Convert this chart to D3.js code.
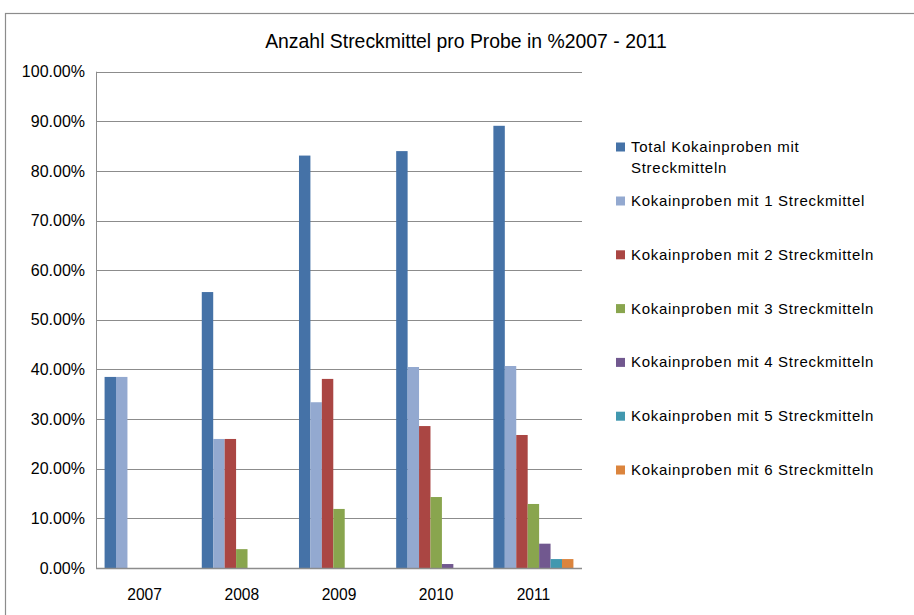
<!DOCTYPE html>
<html>
<head>
<meta charset="utf-8">
<script src="https://cdn.jsdelivr.net/npm/d3@7/dist/d3.min.js"></script>
<style>
  html, body { margin: 0; padding: 0; background: #fff; }
  svg { display: block; font-family: "Liberation Sans", Arial, sans-serif; }
</style>
</head>
<body>
<svg id="chart" width="914" height="615"></svg>
<script>
const years = ["2007", "2008", "2009", "2010", "2011"];
const seriesNames = [
  "Total Kokainproben mit Streckmitteln",
  "Kokainproben mit 1 Streckmittel",
  "Kokainproben mit 2 Streckmitteln",
  "Kokainproben mit 3 Streckmitteln",
  "Kokainproben mit 4 Streckmitteln",
  "Kokainproben mit 5 Streckmitteln",
  "Kokainproben mit 6 Streckmitteln"
];
const total = [38.5, 55.6, 83.1, 84.0, 89.1];
const mit1  = [38.5, 26.0, 33.4, 40.5, 40.7];
const mit2  = [0, 26.0, 38.1, 28.6, 26.8];
const mit3  = [0, 3.8, 11.9, 14.3, 12.9];
const mit4  = [0, 0, 0, 0.8, 4.9];
const mit5  = [0, 0, 0, 0, 1.8];
const mit6  = [0, 0, 0, 0, 1.8];
const yTicks = [0, 10, 20, 30, 40, 50, 60, 70, 80, 90, 100];
const colors = ["#4572A7", "#93A9D0", "#AA4643", "#89A54E", "#71588F", "#4198AF", "#DB843D"];
const title = "Anzahl Streckmittel pro Probe in %2007 - 2011";

const values = [total, mit1, mit2, mit3, mit4, mit5, mit6];

const svg = d3.select("#chart");
const W = 914, H = 615;
const plot = { left: 96, right: 582, top: 71.7, bottom: 568 };
const FONT = '"Liberation Sans", Arial, sans-serif';

// outer chart border
svg.append("rect")
  .attr("x", 5.5).attr("y", 13.5)
  .attr("width", W + 10).attr("height", H + 10)
  .attr("fill", "#fff").attr("stroke", "#8c8c8c").attr("stroke-width", 1.2);

// title
svg.append("text")
  .attr("x", 466).attr("y", 48)
  .attr("text-anchor", "middle")
  .attr("font-size", "19.4px")
  .attr("fill", "#000")
  .text(title);

const y = d3.scaleLinear().domain([0, 100]).range([plot.bottom, plot.top]);
const x0 = d3.scaleBand().domain(years).range([plot.left, plot.right]).paddingInner(0).paddingOuter(0);
const x1 = d3.scaleBand().domain(d3.range(seriesNames.length))
  .range([0, x0.bandwidth()]).paddingInner(0).paddingOuter(0.75);

// gridlines
svg.append("g").selectAll("line").data(yTicks.filter(t => t > 0)).join("line")
  .attr("x1", plot.left).attr("x2", plot.right)
  .attr("y1", d => Math.round(y(d)) + 0.5).attr("y2", d => Math.round(y(d)) + 0.5)
  .attr("stroke", "#8c8c8c").attr("stroke-width", 1);

// y axis labels
const yAxis = d3.axisLeft(y).tickValues(yTicks).tickSize(0).tickPadding(11)
  .tickFormat(d => d.toFixed(2) + "%");
const gy = svg.append("g").attr("transform", `translate(${plot.left},0)`).call(yAxis);
gy.select(".domain").remove();
gy.attr("font-family", FONT).attr("font-size", 16);
gy.selectAll("text").attr("font-size", "16px").attr("fill", "#000")
  .attr("font-family", FONT);

// bars
const groups = svg.append("g").selectAll("g").data(years).join("g")
  .attr("transform", d => `translate(${x0(d)},0)`);
groups.selectAll("rect")
  .data((d, gi) => values.map((s, si) => ({ si, v: s[gi] })).filter(e => e.v > 0))
  .join("rect")
  .attr("x", d => x1(d.si))
  .attr("width", x1.bandwidth())
  .attr("y", d => y(d.v))
  .attr("height", d => y(0) - y(d.v))
  .attr("fill", d => colors[d.si]);

// axis lines
svg.append("line")
  .attr("x1", plot.left + 0.5).attr("x2", plot.left + 0.5)
  .attr("y1", y(100)).attr("y2", plot.bottom + 0.5)
  .attr("stroke", "#8c8c8c").attr("stroke-width", 1);
svg.append("line")
  .attr("x1", plot.left).attr("x2", plot.right)
  .attr("y1", plot.bottom + 0.5).attr("y2", plot.bottom + 0.5)
  .attr("stroke", "#8c8c8c").attr("stroke-width", 1.3);

// x axis labels
const xAxis = d3.axisBottom(x0).tickSize(0).tickPadding(21);
const gx = svg.append("g").attr("transform", `translate(0,${plot.bottom})`).call(xAxis);
gx.select(".domain").remove();
gx.attr("font-family", FONT).attr("font-size", 15.6);
gx.selectAll("text").attr("font-size", "15.6px").attr("fill", "#000")
  .attr("font-family", FONT);

// legend
const legendLines = [
  ["Total Kokainproben mit", "Streckmitteln"],
  [seriesNames[1]], [seriesNames[2]], [seriesNames[3]],
  [seriesNames[4]], [seriesNames[5]], [seriesNames[6]]
];
const legendY = i => i === 0 ? 147 : 201 + (i - 1) * 53.8;
const lg = svg.append("g").selectAll("g").data(legendLines).join("g")
  .attr("transform", (d, i) => `translate(616,${legendY(i)})`);
lg.append("rect")
  .attr("x", 0).attr("y", -4.5).attr("width", 9).attr("height", 9)
  .attr("fill", (d, i) => colors[i]);
lg.each(function (lines) {
  const t = d3.select(this).append("text")
    .attr("x", 15).attr("y", 5)
    .attr("font-size", "15px").attr("letter-spacing", "0.72px").attr("fill", "#000");
  lines.forEach((ln, k) => {
    t.append("tspan").attr("x", 15).attr("dy", k === 0 ? 0 : 20.5).text(ln);
  });
});
</script>
</body>
</html>
